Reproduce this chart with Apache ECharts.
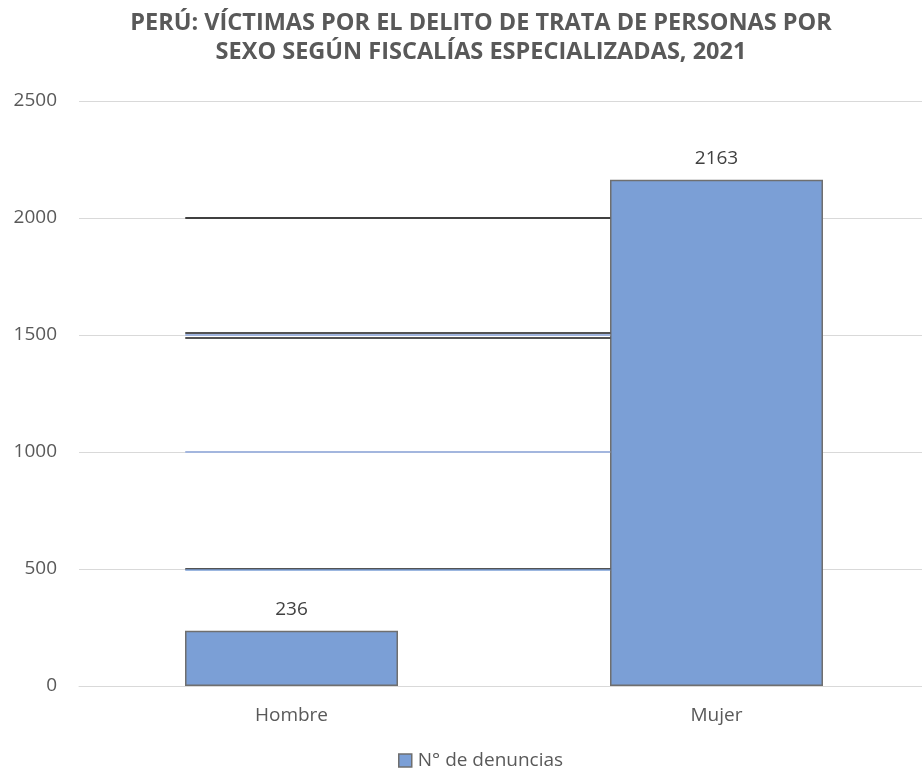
<!DOCTYPE html>
<html>
<head>
<meta charset="utf-8" />
<script src="https://cdn.jsdelivr.net/npm/echarts@6/dist/echarts.min.js"></script>
<title>Trata de personas 2021</title>
<style type="text/css">
* {margin:0; padding:0;}
body {background:#ffffff;}
#main {width:922px; height:775px;}
</style>
</head>
<body>
<div id="main"></div>
<script>
// datos
var categorias = ['Hombre', 'Mujer'];
var denuncias = [236, 2163];
var serieNombre = 'N° de denuncias';
var ejeY = {min: 0, max: 2500, interval: 500};
// lineas oscuras sueltas que salen en la imagen original (entre las barras)
var lineasSueltas = [
	{y: 2000, color: '#404040', ancho: 2},
	{y: 1510, color: '#1a1a1a', ancho: 1.5},
	{y: 1500, color: '#9fb3dd', ancho: 2},
	{y: 1490, color: '#1a1a1a', ancho: 1.5},
	{y: 1000, color: '#a3b6de', ancho: 2},
	{y: 500, color: '#1a1a1a', ancho: 1.5},
	{y: 495, color: '#7b9fd6', ancho: 1.5}
];
var desde = -0.25, hasta = 0.75;

var fuente = '"Open Sans", "Liberation Sans", sans-serif';
var chart = echarts.init(document.getElementById('main'));

var marcas = lineasSueltas.map(function (l) {
	return [
		{coord: [desde, l.y], lineStyle: {color: l.color, width: l.ancho, type: 'solid'}},
		{coord: [hasta, l.y]}
	];
});

chart.setOption({
	animation: false,
	title: {
		text: 'PERÚ: VÍCTIMAS POR EL DELITO DE TRATA DE PERSONAS POR\nSEXO SEGÚN FISCALÍAS ESPECIALIZADAS, 2021',
		left: 476,
		top: 4,
		textAlign: 'center',
		textStyle: {
			fontFamily: fuente,
			fontSize: 23.5,
			fontWeight: 'bold',
			color: '#595959',
			lineHeight: 29
		}
	},
	legend: {
		bottom: 0,
		left: 393,
		itemWidth: 13,
		itemHeight: 13,
		icon: 'rect',
		itemGap: 4,
		itemStyle: {borderColor: '#6f6f6f', borderWidth: 1.5},
		textStyle: {fontFamily: fuente, fontSize: 19, color: '#595959', padding: [0, 0, 0, 1]},
		data: [serieNombre]
	},
	grid: {left: 79, width: 850, top: 101, bottom: 89, containLabel: false, outerBoundsMode: 'none'},
	xAxis: [{
		type: 'category',
		data: categorias,
		axisLine: {lineStyle: {color: '#d9d9d9', width: 1}},
		axisTick: {show: false},
		axisLabel: {fontFamily: fuente, fontSize: 19, color: '#595959', margin: 20}
	}, {
		type: 'value',
		min: -0.5,
		max: 1.5,
		show: false
	}],
	yAxis: {
		type: 'value',
		min: ejeY.min,
		max: ejeY.max,
		interval: ejeY.interval,
		axisLine: {show: false},
		axisTick: {show: false},
		splitLine: {lineStyle: {color: '#d9d9d9', width: 1}},
		axisLabel: {
			fontFamily: fuente, fontSize: 19, color: '#595959', margin: 22,
			formatter: function (v) { return String(v); }
		}
	},
	series: [{
		name: serieNombre,
		type: 'bar',
		data: denuncias,
		barWidth: 213,
		itemStyle: {color: '#7b9fd6', borderColor: '#6f6f6f', borderWidth: 1.5},
		label: {
			show: true,
			position: 'top',
			distance: 12,
			fontFamily: fuente,
			fontSize: 19,
			color: '#404040'
		}
	}, {
		type: 'scatter',
		xAxisIndex: 1,
		data: [],
		silent: true,
		markLine: {
			silent: true,
			symbol: ['none', 'none'],
			label: {show: false},
			data: marcas
		}
	}]
});
</script>
</body>
</html>
